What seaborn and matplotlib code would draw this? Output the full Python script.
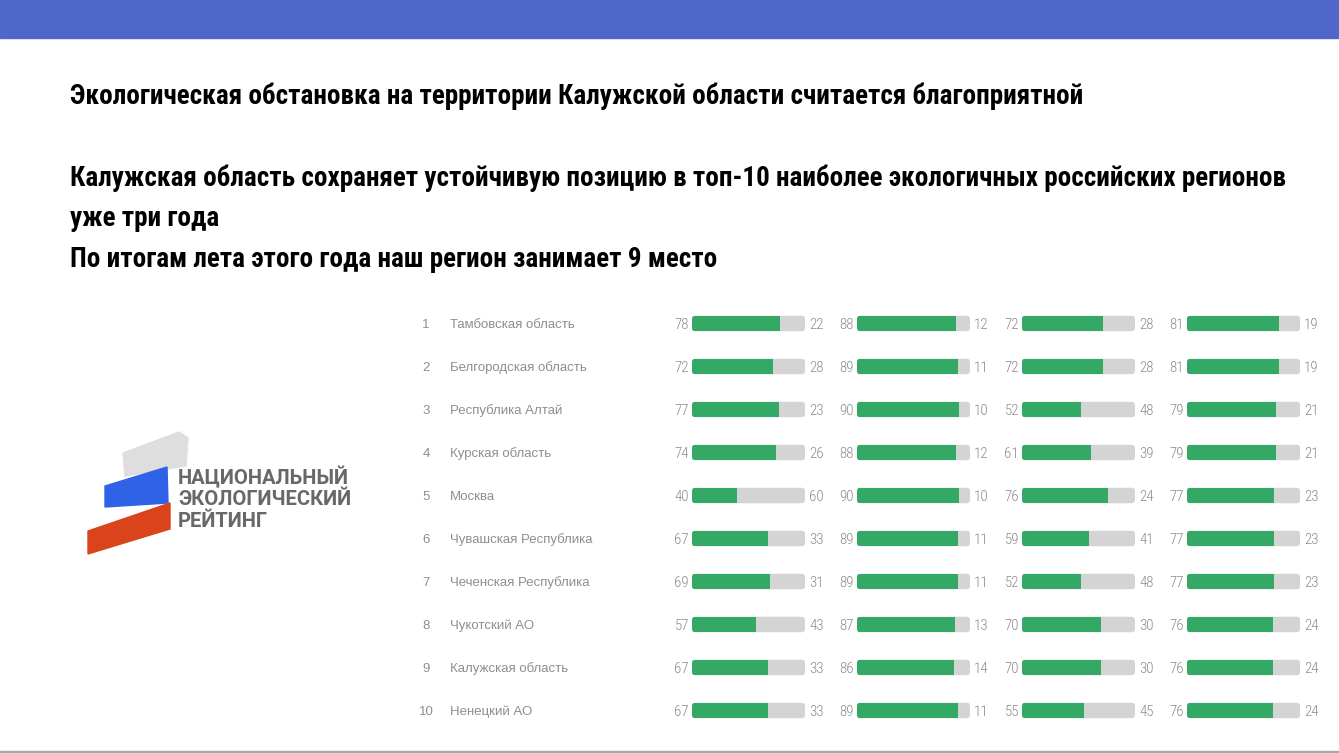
import pandas as pd
import seaborn as sns
import matplotlib.pyplot as plt
from matplotlib.patches import Polygon, Rectangle, FancyBboxPatch
from matplotlib.transforms import blended_transform_factory

# Rating data (share of positive votes per column, the rest is grey)
ranks = ["1", "2", "3", "4", "5", "6", "7", "8", "9", "10"]
regions = ["Тамбовская область", "Белгородская область", "Республика Алтай",
           "Курская область", "Москва", "Чувашская Республика",
           "Чеченская Республика", "Чукотский АО", "Калужская область",
           "Ненецкий АО"]
col1 = [78, 72, 77, 74, 40, 67, 69, 57, 67, 67]
col2 = [88, 89, 90, 88, 90, 89, 89, 87, 86, 89]
col3 = [72, 72, 52, 61, 76, 59, 52, 70, 70, 55]
col4 = [81, 81, 79, 79, 77, 77, 77, 76, 76, 76]

title1 = "Экологическая обстановка на территории Калужской области считается благоприятной"
title2 = "Калужская область сохраняет устойчивую позицию в топ-10 наиболее экологичных российских регионов"
title3 = "уже три года"
title4 = "По итогам лета этого года наш регион занимает 9 место"

W, H = 1339, 753
GREEN = "#34a865"
GREY = "#d4d4d4"
TXT = "#8e8e8e"

sns.set_theme(style="white")
plt.rcParams["font.family"] = ["Liberation Sans", "DejaVu Sans"]

fig = plt.figure(figsize=(W / 100, H / 100), dpi=100)
fig.patch.set_facecolor("white")


def px(x, y):
    return (x / W, 1 - y / H)


# top banner and bottom rule
fig.patches.append(Rectangle(px(0, 37.5), 1, 37.5 / H, transform=fig.transFigure,
                             color="#4f67c8", zorder=0))
fig.patches.append(Rectangle(px(0, 752), 1, 1.5 / H, transform=fig.transFigure,
                             color="#a3aab2", zorder=0))

# headings
head = dict(family=["Roboto Condensed", "DejaVu Sans"], weight="bold",
            fontsize=19.5, color="black", va="baseline", ha="left")
fig.text(*px(70, 104), title1, **head)
fig.text(*px(70, 186), title2, **head)
fig.text(*px(70, 226), title3, **head)
fig.text(*px(70, 267), title4, **head)

# logo
logo = [
    ([(123, 453), (179, 432), (188, 438), (186, 466), (125, 476)], "#dedede"),
    ([(105, 486), (167, 467), (168, 503), (105, 507)], "#2f62e6"),
    ([(88, 531), (170, 503), (170, 529), (88, 554)], "#d9441c"),
]
for pts, c in logo:
    fig.patches.append(Polygon([px(*p) for p in pts], closed=True,
                               transform=fig.transFigure, color=c, zorder=1))
for txt, yb in [("НАЦИОНАЛЬНЫЙ", 484), ("ЭКОЛОГИЧЕСКИЙ", 505), ("РЕЙТИНГ", 527)]:
    fig.text(*px(178, yb), txt, family=["Roboto", "DejaVu Sans"], weight="bold",
             fontsize=14.5, color="#686868", va="baseline", ha="left")

# bar columns
cols = [col1, col2, col3, col4]
row_h = 43
top = 302
for i, vals in enumerate(cols):
    left = 692 + 165 * i
    ax = fig.add_axes([left / W, 1 - (top + 10 * row_h) / H, 113 / W, 10 * row_h / H])
    df = pd.DataFrame({"rank": ranks, "value": vals, "total": [100] * 10})
    sns.barplot(data=df, x="total", y="rank", order=ranks, orient="h", color=GREY,
                saturation=1, width=0.36, ax=ax)
    sns.barplot(data=df, x="value", y="rank", order=ranks, orient="h", color=GREEN,
                saturation=1, width=0.36, ax=ax)
    ax.set_xlim(0, 100)
    ax.set_ylim(9.5, -0.5)
    ax.axis("off")

    # rounded ends: grey track is rounded, green bar is clipped by it
    bars = list(ax.patches)
    grey_bars, green_bars = bars[:10], bars[10:]
    aspect = (1 / row_h) / (100 / 113)
    for gb, gr in zip(grey_bars, green_bars):
        x0, y0 = gb.get_x(), gb.get_y()
        w, h = gb.get_width(), gb.get_height()
        rb = FancyBboxPatch((x0, y0), w, h, boxstyle="round,pad=0,rounding_size=3",
                            mutation_aspect=aspect, facecolor=GREY, edgecolor="none",
                            zorder=gb.get_zorder())
        gb.remove()
        ax.add_patch(rb)
        gr.set_clip_path(rb)
        gr.set_edgecolor("none")
        gr.set_zorder(rb.get_zorder() + 1)

    for j, v in enumerate(vals):
        num = dict(family=["Roboto Condensed", "DejaVu Sans"], weight="light",
                   fontsize=10.8, color="#8c8c8c", va="center_baseline")
        ax.text(-2.7, j, str(v), ha="right", **num)
        ax.text(3.5 + 100, j, str(100 - v), ha="left", **num)

    if i == 0:
        tr = blended_transform_factory(fig.transFigure, ax.transData)
        for j, (r, name) in enumerate(zip(ranks, regions)):
            ax.text(426 / W, j, r, transform=tr, ha="center", va="center_baseline",
                    fontsize=9.5, color=TXT)
            ax.text(450 / W, j, name, transform=tr, ha="left", va="center_baseline",
                    fontsize=9.5, color=TXT)

fig.savefig("out.png", dpi=100)
